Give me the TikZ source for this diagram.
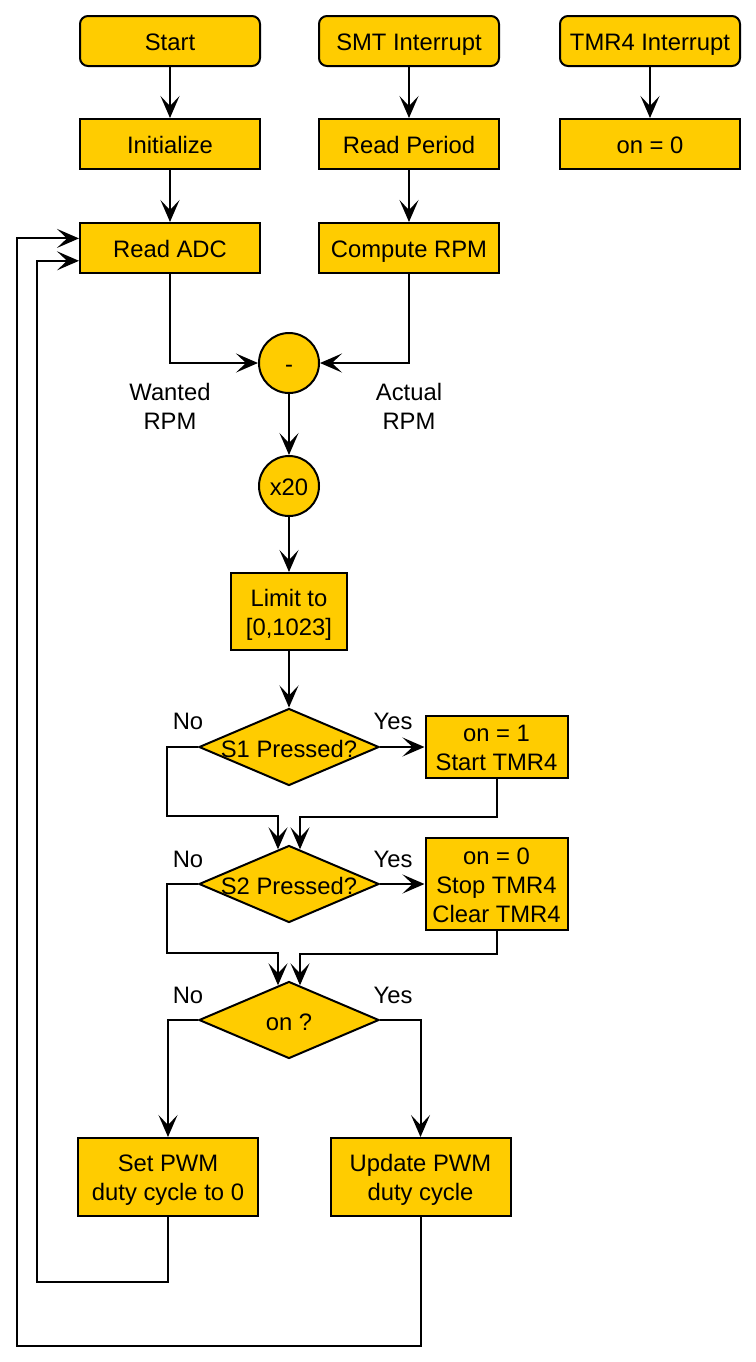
\documentclass[tikz,border=0pt]{standalone}
\usepackage{fontspec}
\setmainfont{Liberation Sans}
\usetikzlibrary{shapes.geometric, arrows.meta}

\definecolor{flowyellow}{HTML}{FFCC00}
\newcommand{\boxstrut}{\rule[-2.5pt]{0pt}{14pt}}

\begin{document}
\begin{tikzpicture}[
        x=0.5pt, y=-0.5pt,
        font=\fontsize{11.9pt}{14.5pt}\selectfont,
        process/.style={
            % The shape:
            rectangle,
            % The size:
            minimum width=90pt,
            minimum height=25pt,
            inner xsep=2pt,
            inner ysep=0pt,
            % The border
            line width=1pt,
            draw=black,
            % The filling
            fill=flowyellow,
            % Text
            align=center,
            execute at begin node=\boxstrut,
            execute at end node=\boxstrut
        },
        terminal/.style={process, rounded corners=4pt},
        junction/.style={process, circle, minimum size=30pt},
        decision/.style={process, diamond, minimum width=90pt, minimum height=38.5pt, inner sep=0pt},
        flow/.style={line width=1pt, -{Stealth[length=11pt, width=9.5pt, inset=5pt]}}
    ]

    \useasboundingbox (0,0) rectangle (756,1362);

    % Entry points
    \foreach \x/\name/\txt in {170/start/Start, 409/smt/SMT Interrupt, 650/tmr/TMR4 Interrupt}
    {
        \node [terminal] (\name) at (\x,41) {\txt};
    }

    \node [process] (init) at (170,144) {Initialize};
    \node [process] (readperiod) at (409,144) {Read Period};
    \node [process] (tmroff) at (650,144) {on = 0};
    \node [process] (readadc) at (170,248) {Read ADC};
    \node [process] (rpm) at (409,248) {Compute RPM};

    % Controller
    \node [junction] (minus) at (289,363) {-};
    \node [align=center] (wanted) at (170,406) {Wanted\\RPM};
    \node [align=center] (actual) at (409,406) {Actual\\RPM};
    \node [junction] (times) at (289,486) {x20};
    \node [process, minimum width=58pt, minimum height=38.5pt] (limit) at (289,611.5) {\boxstrut Limit to\\{[0,1023]}\boxstrut};

    % Buttons
    \node [decision, label={[yshift=-1pt]center:S1 Pressed?}] (s1) at (289,747) {};
    \node [process, minimum width=71pt, minimum height=31pt] (starttmr) at (496.5,747) {\boxstrut on = 1\\Start TMR4\boxstrut};
    \node [decision, label={[yshift=-1pt]center:S2 Pressed?}] (s2) at (289,884) {};
    \node [process, minimum width=71pt, minimum height=46pt] (stoptmr) at (496.5,884) {\boxstrut on = 0\\Stop TMR4\\Clear TMR4\boxstrut};
    \node [decision, label={[yshift=-1pt]center:on ?}] (onq) at (289,1020) {};

    \node [process, minimum height=39pt] (setpwm) at (168,1177) {\boxstrut Set PWM\\duty cycle to 0\boxstrut};
    \node [process, minimum height=39pt] (update) at (420.5,1177) {\boxstrut Update PWM\\duty cycle\boxstrut};

    \foreach \y/\n in {721/1, 859/2, 995/3}
    {
        \node (no\n) at (188,\y) {No};
        \node (yes\n) at (393,\y) {Yes};
    }

    % Connectors
    \draw [flow] (start) -- (init);
    \draw [flow] (init) -- (readadc);
    \draw [flow] (smt) -- (readperiod);
    \draw [flow] (readperiod) -- (rpm);
    \draw [flow] (tmr) -- (tmroff);
    \draw [flow] (readadc) |- (minus);
    \draw [flow] (rpm) |- (minus);
    \draw [flow] (minus) -- (times);
    \draw [flow] (times) -- (limit);
    \draw [flow] (limit) -- (s1);

    \draw [flow] (s1) -- (starttmr);
    \draw [flow] (s1.west) -| ++(-31,69) -| ([xshift=-5.5pt,yshift=-2.4pt]s2.north);
    \draw [flow] (starttmr.south) -- ++(0,38) -| ([xshift=5.5pt,yshift=-2.4pt]s2.north);

    \draw [flow] (s2) -- (stoptmr);
    \draw [flow] (s2.west) -| ++(-31,69) -| ([xshift=-5.5pt,yshift=-2.4pt]onq.north);
    \draw [flow] (stoptmr.south) -- ++(0,23) -| ([xshift=5.5pt,yshift=-2.4pt]onq.north);

    \draw [flow] (onq.west) -| (setpwm);
    \draw [flow] (onq.east) -| (update);

    % Back to the loop
    \draw [flow] (setpwm.south) -- ++(0,65) -- ++(-131,0) |- ([yshift=-6.4pt]readadc.west);
    \draw [flow] (update.south) -- ++(0,129) -- ++(-404,0) |- ([yshift=4.8pt]readadc.west);

\end{tikzpicture}
\end{document}
